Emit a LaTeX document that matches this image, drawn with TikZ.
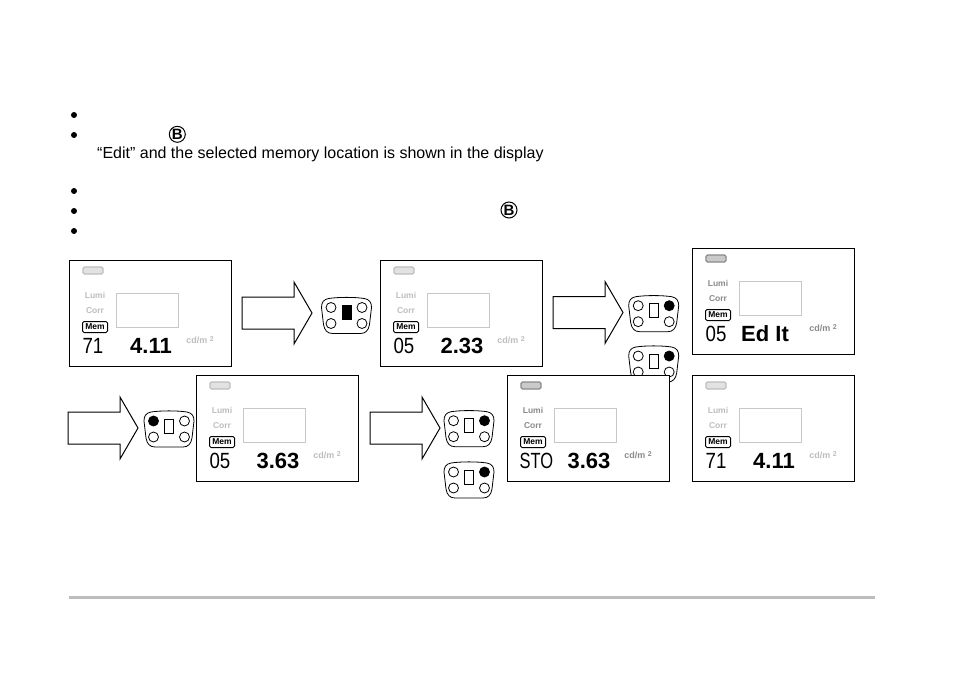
\documentclass[tikz,border=0pt]{standalone}
\usepackage{fontspec}
\usepackage{graphicx}
\setmainfont{Liberation Sans}
\definecolor{rulegray}{HTML}{BDBDBD}
\definecolor{boxgray}{HTML}{C8C8C8}
\definecolor{lightlabel}{HTML}{BEBEBE}
\definecolor{darklabel}{HTML}{8A8A8A}
\tikzset{
  x=1pt,y=-1pt,
  panelbox/.style={draw=black,line width=1pt,fill=white,minimum width=162pt,minimum height=106pt,inner sep=0pt,anchor=north west},
  body/.style={font=\fontsize{16}{18}\selectfont,inner sep=0pt,anchor=base west},
  bulletdot/.style={circle,fill=black,inner sep=0pt,minimum size=6pt},
  bkey/.style={circle,draw=black,line width=1pt,fill=white,inner sep=0pt,minimum size=16pt,font=\fontsize{15}{15}\selectfont\bfseries},
  blockarrow/.style={draw=black,line width=1pt,fill=white},
  padline/.style={draw=black,line width=0.8pt,fill=white},
  segthin/.style={inner sep=0pt,font=\fontsize{22}{22}\selectfont},
  segbold/.style={inner sep=0pt,font=\fontsize{22}{22}\selectfont\bfseries},
}
% #1 name, #2 x, #3 y, #4 label colour, #5 left text, #6 left centre x, #7 right text, #8 right centre x
\newcommand{\lcdpanel}[8]{%
  \node[panelbox] (#1) at (#2,#3) {};
  \begin{scope}[shift={(#2,#3)}]
    \draw[#4,line width=1.2pt,rounded corners=1.5pt,fill=#4!45] (14,7) rectangle (34,14);
    \node[draw=boxgray,line width=0.8pt,minimum width=62pt,minimum height=34pt,inner sep=0pt] (#1scr) at (78,50) {};
    \node[inner sep=0pt,text=#4,font=\fontsize{8.5}{9}\selectfont\bfseries] (#1lumi) at (26,35) {Lumi};
    \node[inner sep=0pt,text=#4,font=\fontsize{8.5}{9}\selectfont\bfseries] (#1corr) at (26,51) {Corr};
    \node[draw=black,line width=1pt,rounded corners=1.5pt,minimum width=25pt,minimum height=11pt,inner sep=0pt,font=\fontsize{8.5}{9}\selectfont\bfseries] (#1mem) at (26,67) {Mem};
    \node[segthin] (#1left) at (#6,86) {\scalebox{0.85}[1]{#5}};
    \node[segbold] (#1right) at (#8,86) {#7};
    \node[inner sep=0pt,text=#4,font=\fontsize{9}{9}\selectfont\bfseries] (#1unit) at (131,80) {cd/m \raisebox{2.5pt}{\fontsize{7}{7}\selectfont 2}};
  \end{scope}}
% #1 x, #2 y
\newcommand{\bigarrow}[2]{%
  \draw[blockarrow,shift={(#1,#2)}] (0,-16) -- (52,-16) -- (52,-31) -- (70,0) -- (52,31) -- (52,16) -- (0,16) -- cycle;}
% #1 x, #2 y (centre of the middle key), #3 TL fill, #4 centre fill, #5 TR fill
\newcommand{\keypad}[5]{%
  \begin{scope}[shift={(#1,#2)}]
    \draw[padline] (-18,-14) .. controls (-8,-15.5) and (8,-15.5) .. (18,-14)
      .. controls (23,-13) and (25,-10) .. (25,-5) -- (23,12)
      .. controls (22,18) and (19,21) .. (14,21) -- (-14,21)
      .. controls (-19,21) and (-22,18) .. (-23,12) -- (-25,-5)
      .. controls (-25,-10) and (-23,-13) .. (-18,-14) -- cycle;
    \draw[line width=0.8pt,fill=#4] (-4.5,-7) rectangle (4.5,7);
    \draw[line width=0.8pt,fill=#3] (-15.5,-5) circle (5);
    \draw[line width=0.8pt,fill=#5] (15.5,-5) circle (5);
    \draw[line width=0.8pt,fill=white] (-15.5,11) circle (5);
    \draw[line width=0.8pt,fill=white] (15.5,11) circle (5);
  \end{scope}}
\begin{document}
\begin{tikzpicture}
\useasboundingbox (0,0) rectangle (954,673);
\fill[white] (0,0) rectangle (954,673);
% bullets and text
\node[bulletdot] (b1) at (74,115) {};
\node[bulletdot] (b2) at (74,135) {};
\node[bulletdot] (b3) at (74,191) {};
\node[bulletdot] (b4) at (74,211) {};
\node[bulletdot] (b5) at (74,231) {};
\node[bkey] (bk1) at (177.3,134.3) {B};
\node[bkey] (bk2) at (509,210) {B};
\node[body] (t1) at (97,158) {“Edit” and the selected memory location is shown in the display};
% arrows
\bigarrow{242}{313}
\bigarrow{553}{312.5}
\bigarrow{68}{428}
\bigarrow{370}{428}
% keypads
\keypad{346.5}{312.5}{white}{black}{white}
\keypad{653.7}{310.7}{white}{white}{black}
\keypad{653.7}{361}{white}{white}{black}
\keypad{469}{425.7}{white}{white}{black}
\keypad{469}{477}{white}{white}{black}
\keypad{169}{426}{black}{white}{white}
% panels
\lcdpanel{p1}{69}{260}{lightlabel}{71}{24}{4.11}{82}
\lcdpanel{p2}{380}{260}{lightlabel}{05}{24}{2.33}{82}
\lcdpanel{p3}{692}{248}{darklabel}{05}{24}{Ed It}{73}
\lcdpanel{p4}{196}{375}{lightlabel}{05}{24}{3.63}{82}
\lcdpanel{p5}{507}{375}{darklabel}{\scalebox{0.88}[1]{STO}}{29.5}{3.63}{82}
\lcdpanel{p6}{692}{375}{lightlabel}{71}{24}{4.11}{82}
% footer rule
\draw[rulegray,line width=3pt] (69,597) -- (875,597);
\end{tikzpicture}
\end{document}
